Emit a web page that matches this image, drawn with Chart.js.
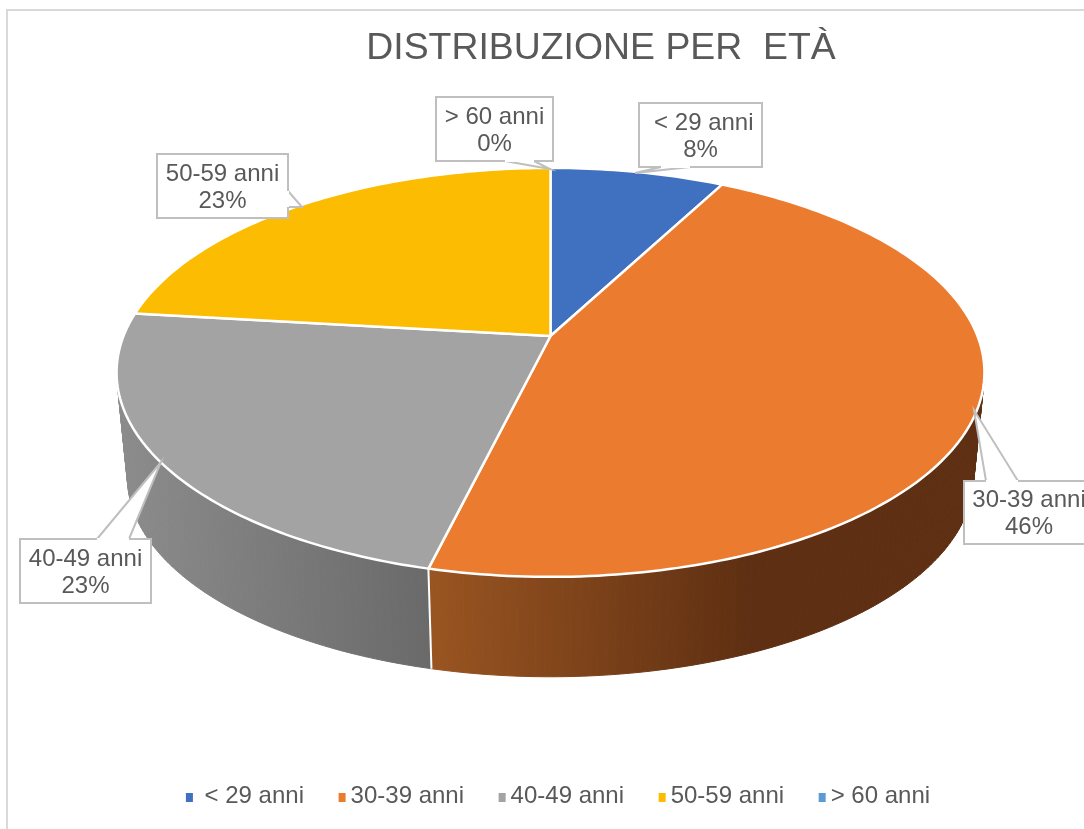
<!DOCTYPE html>
<html>
<head>
<meta charset="utf-8">
<title>Distribuzione per età</title>
<script src="https://cdn.jsdelivr.net/npm/chart.js@4"></script>
<style>
    body { margin: 0; background: #fff; overflow: hidden; }
    canvas { display: block; }
</style>
</head>
<body>
<canvas id="pieChart" width="1084" height="829"></canvas>
<script>
// Data
const categories = [' < 29 anni', '30-39 anni', '40-49 anni', '50-59 anni', '> 60 anni'];
const percentages = [7.7, 46.1, 23.05, 23.15, 0];
const sliceColors = ['#4070C0', '#EB7B2E', '#A3A3A3', '#FBBC02', '#5B9BD5'];
const chartTitle = 'DISTRIBUZIONE PER  ETÀ';

const textColor = '#595959';
const calloutColor = '#BFBFBF';

// Perspective of the disc: apex of the slices, half axis, tilt
const apex = { x: 550.5, y: 336 };
const axisX = 427;
const axisY = 198;
const tilt = -0.178;

// Rim of the base of the disc, relative to the middle of the top ellipse
const rimMiddle = { x: 550.5, y: 372.5 };
const rimScale = 0.975;
const rimDrop = 105;

// Gradients of the side wall, one per slice that shows from the front
const wallShades = {
    1: { from: 428, to: 750, start: '#9A5521', end: '#5E2F12' },
    2: { from: 118, to: 428, start: '#8C8C8C', end: '#6A6A6A' }
};

// Top rim point for a slice angle
function topPoint(angle) {
    const u = Math.cos(angle);
    const v = Math.sin(angle);
    const d = 1 + tilt * v;
    return { x: apex.x + axisX * u / d, y: apex.y + axisY * v / d };
}

// Same angle on the base of the disc
function basePoint(angle) {
    const p = topPoint(angle);
    return {
        x: rimMiddle.x + rimScale * (p.x - rimMiddle.x),
        y: rimMiddle.y + rimDrop + rimScale * (p.y - rimMiddle.y)
    };
}

// Side wall of one slice, small quads so the silhouette comes out right
function drawWall(ctx, arc, index) {
    const shade = wallShades[index];
    if (!shade) {
        return;
    }
    const fill = ctx.createLinearGradient(shade.from, 0, shade.to, 0);
    fill.addColorStop(0, shade.start);
    fill.addColorStop(1, shade.end);
    const step = Math.PI / 180;
    ctx.fillStyle = fill;
    ctx.strokeStyle = fill;
    ctx.lineWidth = 1;
    for (let a = arc.startAngle; a < arc.endAngle; a += step) {
        const b = Math.min(a + step, arc.endAngle);
        const p1 = topPoint(a), p2 = topPoint(b), p3 = basePoint(b), p4 = basePoint(a);
        ctx.beginPath();
        ctx.moveTo(p1.x, p1.y);
        ctx.lineTo(p2.x, p2.y);
        ctx.lineTo(p3.x, p3.y);
        ctx.lineTo(p4.x, p4.y);
        ctx.closePath();
        ctx.fill();
        ctx.stroke();
    }
}

// Top face of one slice
function drawFace(ctx, arc, color) {
    ctx.beginPath();
    ctx.moveTo(apex.x, apex.y);
    const step = Math.PI / 180;
    for (let a = arc.startAngle; a < arc.endAngle; a += step) {
        const p = topPoint(a);
        ctx.lineTo(p.x, p.y);
    }
    const last = topPoint(arc.endAngle);
    ctx.lineTo(last.x, last.y);
    ctx.closePath();
    ctx.fillStyle = color;
    ctx.fill();
    ctx.strokeStyle = '#FFFFFF';
    ctx.lineWidth = 2.5;
    ctx.lineJoin = 'round';
    ctx.stroke();
}

// The library has no 3D pie: it works out the slice angles, this draws them
const disc3d = {
    id: 'disc3d',
    beforeDatasetsDraw(chart) {
        const ctx = chart.ctx;
        const arcs = chart.getDatasetMeta(0).data;
        ctx.save();
        arcs.forEach((arc, i) => drawWall(ctx, arc, i));
        // white edge between the two walls at the front
        const seam = arcs[1].endAngle;
        const a = topPoint(seam), b = basePoint(seam);
        ctx.strokeStyle = '#FFFFFF';
        ctx.lineWidth = 2;
        ctx.beginPath();
        ctx.moveTo(a.x, a.y);
        ctx.lineTo(b.x, b.y);
        ctx.stroke();
        arcs.forEach((arc, i) => {
            if (percentages[i] > 0) {
                drawFace(ctx, arc, sliceColors[i]);
            }
        });
        ctx.restore();
        return false;
    }
};

// Callouts: box corners, then the wedge that points at the slice
const callouts = [
    { index: 0, box: [639, 103, 123, 64], wedge: [[690, 167], [635, 173], [661, 167]] },
    { index: 1, box: [964, 481, 130, 63], wedge: [[986, 481], [974, 410], [1018, 481]] },
    { index: 2, box: [20, 539, 131, 64], wedge: [[97, 539], [161, 462], [129, 539]] },
    { index: 3, box: [157, 154, 131, 64], wedge: [[288, 191], [302, 207], [288, 207]] },
    { index: 4, box: [436, 97, 117, 64], wedge: [[505, 161], [550, 169], [534, 161]] }
];

const calloutLabels = {
    id: 'calloutLabels',
    afterDraw(chart) {
        const ctx = chart.ctx;
        ctx.save();
        ctx.font = '24px "Liberation Sans"';
        ctx.textAlign = 'center';
        ctx.textBaseline = 'middle';
        callouts.forEach(c => {
            const [x, y, w, h] = c.box;
            const [w0, w1, w2] = c.wedge;
            ctx.fillStyle = '#FFFFFF';
            ctx.strokeStyle = calloutColor;
            ctx.lineWidth = 2;
            ctx.lineJoin = 'miter';
            ctx.beginPath();
            ctx.rect(x, y, w, h);
            ctx.fill();
            ctx.stroke();
            // wedge on top of the box edge, open towards the box
            ctx.beginPath();
            ctx.moveTo(w0[0], w0[1]);
            ctx.lineTo(w1[0], w1[1]);
            ctx.lineTo(w2[0], w2[1]);
            ctx.closePath();
            ctx.fill();
            ctx.beginPath();
            ctx.moveTo(w0[0], w0[1]);
            ctx.lineTo(w1[0], w1[1]);
            ctx.lineTo(w2[0], w2[1]);
            ctx.stroke();
            ctx.beginPath();
            ctx.moveTo(w0[0], w0[1]);
            ctx.lineTo(w2[0], w2[1]);
            ctx.strokeStyle = '#FFFFFF';
            ctx.stroke();
            ctx.fillStyle = textColor;
            ctx.fillText(categories[c.index], x + w / 2, y + h / 2 - 12);
            ctx.fillText(Math.round(percentages[c.index]) + '%', x + w / 2, y + h / 2 + 15);
        });
        ctx.restore();
    }
};

// Outer frame (only left and top are inside the picture), title and legend shifted like the original
const frameAndShift = {
    id: 'frameAndShift',
    afterLayout(chart) {
        chart.titleBlock.left = 118;
        chart.legend.left = 16;
        chart.legend.right = 1084 + 16;
        chart.legend.top = 750;
        chart.legend.adjustHitBoxes();
    },
    beforeDraw(chart) {
        const ctx = chart.ctx;
        ctx.save();
        ctx.strokeStyle = '#D9D9D9';
        ctx.lineWidth = 2;
        ctx.beginPath();
        ctx.moveTo(7, 829);
        ctx.lineTo(7, 10);
        ctx.lineTo(1084, 10);
        ctx.stroke();
        ctx.restore();
    },
    afterDraw(chart) {
        // small legend squares sit closer to the text than the library allows
        const ctx = chart.ctx;
        ctx.save();
        chart.legend.legendHitBoxes.forEach((hit, i) => {
            ctx.fillStyle = sliceColors[i];
            ctx.fillRect(hit.left, 793, 7, 9);
        });
        ctx.restore();
    }
};

new Chart(document.getElementById('pieChart'), {
    type: 'pie',
    data: {
        labels: categories,
        datasets: [{
            data: percentages,
            backgroundColor: sliceColors,
            borderColor: '#FFFFFF',
            borderWidth: 2
        }]
    },
    options: {
        responsive: false,
        animation: false,
        plugins: {
            title: {
                display: true,
                text: chartTitle,
                color: textColor,
                font: { family: '"Liberation Sans"', size: 37.4, weight: 'normal' },
                padding: { top: 26, bottom: 10 }
            },
            legend: {
                position: 'bottom',
                labels: {
                    color: textColor,
                    font: { family: '"Liberation Sans"', size: 24 },
                    boxWidth: 0,
                    boxHeight: 0,
                    padding: 34.6,
                    generateLabels(chart) {
                        return Chart.overrides.pie.plugins.legend.labels.generateLabels(chart)
                            .map(item => ({ ...item, lineWidth: 0, hidden: false }));
                    }
                }
            },
            tooltip: { enabled: false }
        }
    },
    plugins: [frameAndShift, disc3d, calloutLabels]
});
</script>
</body>
</html>
